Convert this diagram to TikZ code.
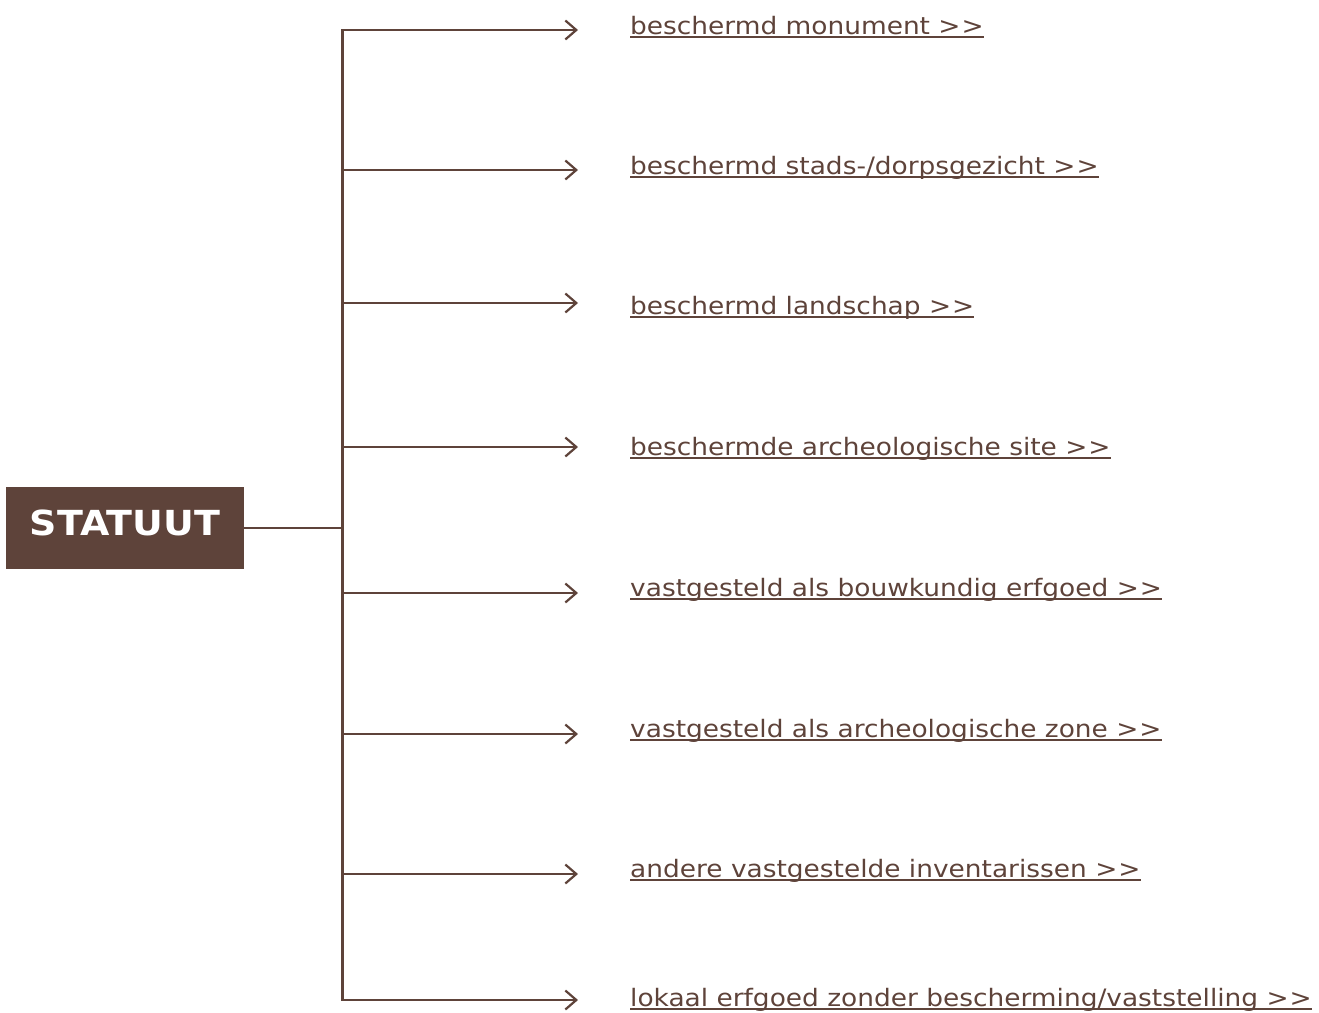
\documentclass[tikz,border=0pt]{standalone}
\usepackage{fontspec}
\setmainfont{DejaVu Sans}[FakeStretch=1.1]
\usetikzlibrary{arrows.meta}
\definecolor{erfbrown}{RGB}{94,67,58}
\newcommand{\linkul}[1]{\setbox0\hbox{#1}\rlap{\rule[-3.8pt]{\wd0}{1.5pt}}\box0}
\tikzstyle{statbox} = [rectangle, fill=erfbrown, text=white, font=\fontsize{34.5}{40}\selectfont\bfseries, minimum width=238pt, minimum height=82pt, inner sep=0pt, text depth=10pt]
\tikzstyle{link} = [anchor=base west, inner sep=0pt, text=erfbrown, font=\fontsize{24}{29}\selectfont]
\tikzstyle{line} = [line width=2.2pt, draw=erfbrown]
\tikzstyle{arrow} = [line, -{Straight Barb[length=11pt, width=19pt, line width=2.2pt]}]

\begin{document}
\begin{tikzpicture}[x=1pt, y=-1pt]
    \useasboundingbox (0,0) rectangle (1319,1012);
    \node (statuut) [statbox] at (125,528) {STATUUT};

    \coordinate (trunktop) at (342.5,30);
    \coordinate (trunkbot) at (342.5,1000);
    \draw [line, line cap=rect] (trunktop) -- (trunkbot);
    \draw [line] (statuut.east) -- (statuut.east -| trunktop);

    \foreach \ypos/\tpos/\name/\label in {30/34/monument/{beschermd monument},
        170/174/gezicht/{beschermd stads-/dorpsgezicht},
        303/314/landschap/{beschermd landschap},
        447/455/site/{beschermde archeologische site},
        593/596/bouwkundig/{vastgesteld als bouwkundig erfgoed},
        734/737/zone/{vastgesteld als archeologische zone},
        874/877/inventaris/{andere vastgestelde inventarissen},
        1000/1006/lokaal/{lokaal erfgoed zonder bescherming/vaststelling}} {
        \coordinate (b\name) at (342.5,\ypos);
        \coordinate (e\name) at (578,\ypos);
        \node (\name) [link] at (630,\tpos) {\linkul{\label{} >\kern1pt>}};
        \draw [arrow] (b\name) -- (e\name);
    }

\end{tikzpicture}
\end{document}
